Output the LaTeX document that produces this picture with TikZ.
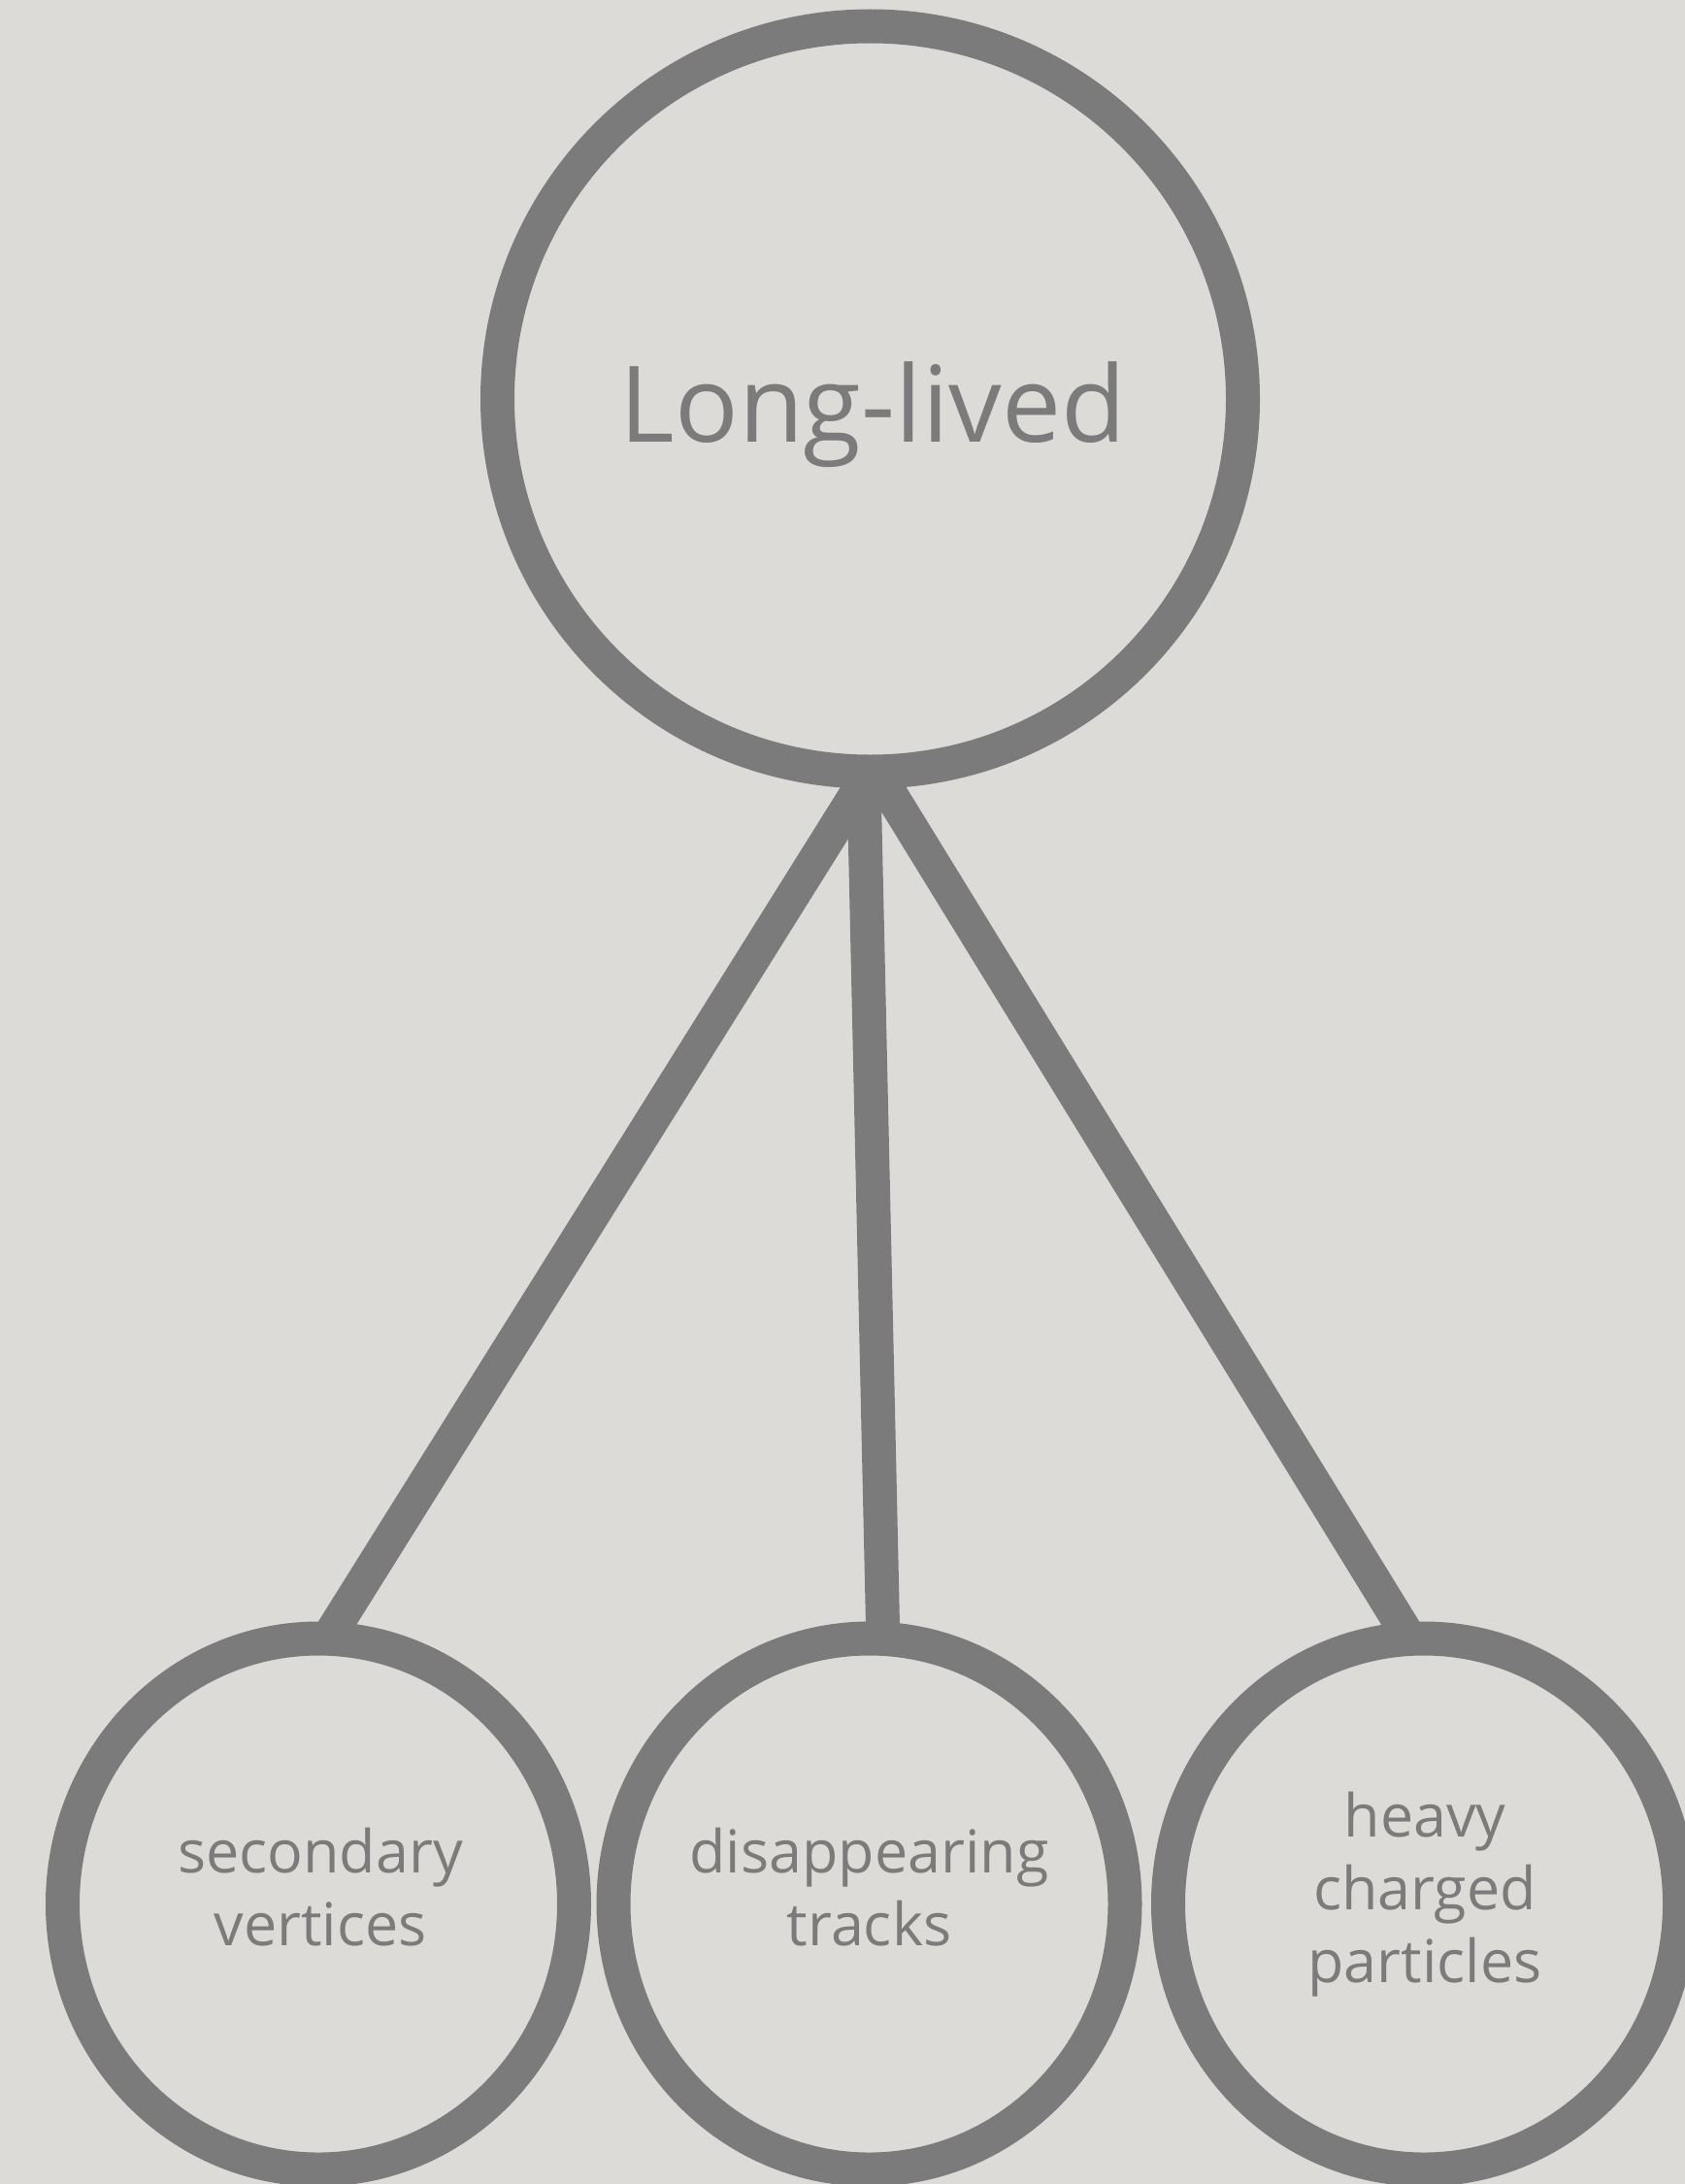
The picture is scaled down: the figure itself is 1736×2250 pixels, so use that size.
\documentclass[tikz,border=0pt]{standalone}
\usepackage{fontspec}
\setmainfont{Open Sans}
\usetikzlibrary{shapes.geometric}
\definecolor{paper}{RGB}{221,219,215}
\definecolor{ink}{RGB}{123,123,123}

\begin{document}
\begin{tikzpicture}[x=1pt,y=-1pt,
  ring/.style={draw=ink,line width=35pt,inner sep=0pt,outer sep=0pt},
  bigring/.style={ring,circle,minimum size=768pt},
  smallring/.style={ring,ellipse,minimum width=527pt,minimum height=547pt},
  link/.style={draw=ink,line width=35pt},
  title/.style={text=ink,font=\fontsize{109}{130}\selectfont,inner sep=0pt,anchor=base},
  caption/.style={text=ink,font=\fontsize{61}{75}\selectfont,align=center,inner sep=0pt}]
\useasboundingbox (0,0) rectangle (1736,2250);
\fill[paper] (0,0) rectangle (1736,2250);
\clip (0,0) rectangle (1736,2250);

% parent and child circles
\node[bigring]   (llp) at (896.5,411) {};
\node[smallring] (sv)  at (328,1961.5) {};
\node[smallring] (dt)  at (895.5,1961.5) {};
\node[smallring] (hcp) at (1467,1961.5) {};

% connectors from the parent to each child
\draw[link] (llp.270)   -- (sv.88);
\draw[link] (llp.269.2) -- (dt.87);
\draw[link] (llp.271)   -- (hcp.93);

% labels
\node[title]   (llpText) at (899.5,455) {Long-lived};
\node[caption] (svText)  at (330,1944) {secondary\\vertices};
\node[caption] (dtText)  at (895.5,1944) {disappearing\\tracks};
\node[caption] (hcpText) at (1468,1952) {heavy\\charged\\particles};
\end{tikzpicture}
\end{document}
